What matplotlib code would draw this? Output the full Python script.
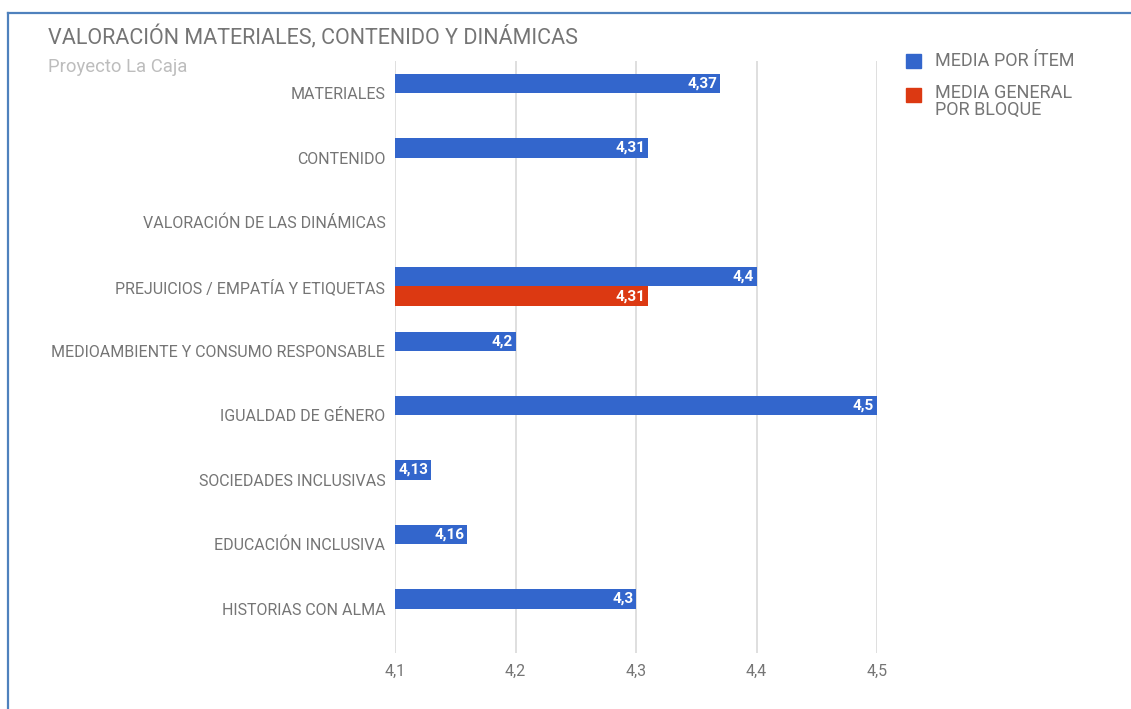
import matplotlib
matplotlib.use("Agg")
import matplotlib.pyplot as plt
from matplotlib.lines import Line2D
from matplotlib.patches import Rectangle
import numpy as np

plt.rcParams['font.family'] = ['Roboto', 'DejaVu Sans']

categories = ["MATERIALES", "CONTENIDO", "VALORACIÓN DE LAS DINÁMICAS",
              "PREJUICIOS / EMPATÍA Y ETIQUETAS",
              "MEDIOAMBIENTE Y CONSUMO RESPONSABLE", "IGUALDAD DE GÉNERO",
              "SOCIEDADES INCLUSIVAS", "EDUCACIÓN INCLUSIVA", "HISTORIAS CON ALMA"]
media_item = [4.37, 4.31, np.nan, 4.4, 4.2, 4.5, 4.13, 4.16, 4.3]
media_bloque = [np.nan, np.nan, np.nan, 4.31, np.nan, np.nan, np.nan, np.nan, np.nan]
series_names = ["MEDIA POR ÍTEM", "MEDIA GENERAL", "POR BLOQUE"]
xticks = [4.1, 4.2, 4.3, 4.4, 4.5]
xticklabels = ["4,1", "4,2", "4,3", "4,4", "4,5"]
title = "VALORACIÓN MATERIALES, CONTENIDO Y DINÁMICAS"
subtitle = "Proyecto La Caja"

BLUE = "#3366cc"
RED = "#dc3912"
GREY = "#757575"

W, H = 1131, 709
fig = plt.figure(figsize=(W / 100, H / 100), dpi=100)

def fx(px): return px / W
def fy(py): return 1 - py / H

ax = fig.add_axes([fx(395), fy(653), fx(877) - fx(395), fy(61) - fy(653)])

base = 4.1
y = np.arange(len(categories))
h = 0.3
for vals, off, col in [(media_item, -0.15, BLUE), (media_bloque, 0.15, RED)]:
    for yi, v in zip(y, vals):
        if np.isnan(v):
            continue
        ax.barh(yi + off, v - base, left=base, height=h, color=col, zorder=3)
        ax.annotate(f"{v:g}".replace(".", ","), xy=(v, yi + off),
                    xytext=(-2, 0), textcoords="offset points",
                    ha="right", va="center", color="white", fontsize=11,
                    fontweight="bold", zorder=4)

ax.set_xlim(4.1, 4.5)
ax.set_ylim(len(categories) - 1 + 0.69, -0.5)
ax.set_xticks(xticks)
ax.set_xticklabels(xticklabels, color=GREY, fontsize=11.5)
ax.set_yticks(y)
ax.set_yticklabels(categories, color=GREY, fontsize=11.5)
ax.tick_params(axis="x", length=0, pad=8)
ax.tick_params(axis="y", length=0, pad=7)
for s in ax.spines.values():
    s.set_visible(False)
ax.grid(axis="x", color="#d9d9d9", linewidth=1.2, zorder=0)
ax.set_axisbelow(True)

fig.text(fx(48), fy(37), title, fontsize=15.5, color=GREY, va="center", ha="left")
fig.text(fx(48), fy(67), subtitle, fontsize=13.3, color="#bdbdbd", va="center", ha="left")

# legend
fig.add_artist(Rectangle((fx(906), fy(68)), fx(15), fy(54) - fy(68), color=BLUE,
                         transform=fig.transFigure))
fig.add_artist(Rectangle((fx(906), fy(102)), fx(15), fy(88) - fy(102), color=RED,
                         transform=fig.transFigure))
fig.text(fx(935), fy(61), series_names[0], fontsize=13, color=GREY, va="center")
fig.text(fx(935), fy(93), series_names[1], fontsize=13, color=GREY, va="center")
fig.text(fx(935), fy(110), series_names[2], fontsize=13, color=GREY, va="center")

# border
fig.add_artist(Line2D([fx(8), 1], [fy(13), fy(13)], color="#4f81bd", linewidth=1.6,
                      transform=fig.transFigure))
fig.add_artist(Line2D([fx(8), fx(8)], [0, fy(13)], color="#4f81bd", linewidth=1.6,
                      transform=fig.transFigure))

fig.savefig("out.png", dpi=100)
